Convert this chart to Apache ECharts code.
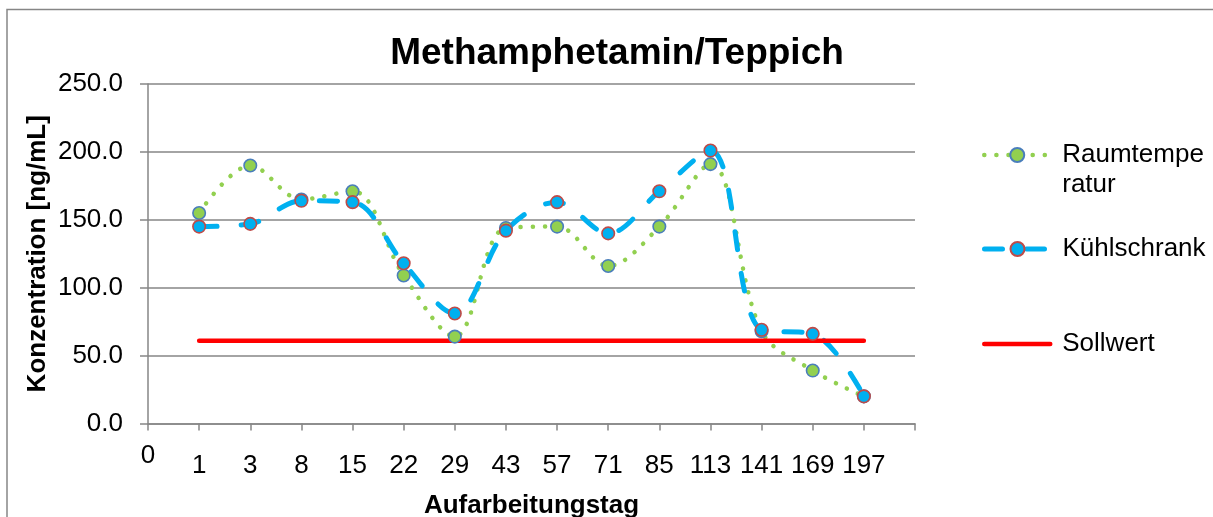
<!DOCTYPE html>
<html>
<head>
<meta charset="utf-8">
<script src="https://cdn.jsdelivr.net/npm/echarts@6/dist/echarts.min.js"></script>
<style>html,body{margin:0;padding:0;background:#fff;}#c{width:1213px;height:517px;}</style>
</head>
<body>
<div id="c"></div>
<script>
const categories = ['0','1','3','8','15','22','29','43','57','71','85','113','141','169','197',''];
const raumtemperatur = [null,155,190,165,171,109,64,144,145,116,145,191,68,39,20,null];
const kuehlschrank = [null,145,147,164,163,118,81,142,163,140,171,201,69,66,20,null];
const sollwert = [null,61,61,61,61,61,61,61,61,61,61,61,61,61,61,null];
const yTicks = {min:0, max:250, interval:50};

const FONT = '"Liberation Sans", Arial, sans-serif';
const chart = echarts.init(document.getElementById('c'), null, {renderer:'canvas'});
const xData = categories.map(c => c === '0' ? {value:c, textStyle:{lineHeight:6}} : c);
const legendText = {fontFamily:FONT, fontSize:26, lineHeight:30, color:'#000', padding:[0,0,0,7]};

chart.setOption({
  animation:false,
  backgroundColor:'#fff',
  textStyle:{fontFamily:FONT},
  title:{text:'Methamphetamin/Teppich', left:612, textAlign:'center', top:30,
    textStyle:{fontFamily:FONT, fontSize:37, fontWeight:'bold', color:'#000'}},
  graphic:[{type:'rect', shape:{x:7,y:9.5,width:1300,height:600}, style:{fill:'none', stroke:'#868686', lineWidth:1.5}, silent:true}],
  grid:{left:148, right:298, top:84, bottom:93.5, outerBoundsMode:'none', containLabel:false},
  legend:[
    {data:['Raumtemperatur'], orient:'vertical', left:977, top:105, itemWidth:66, itemHeight:17.5,
     formatter:()=> ' \nRaumtempe\nratur', textStyle:legendText, lineStyle:{width:4.5}},
    {data:['Kühlschrank'], orient:'vertical', left:977, top:229, itemWidth:66, itemHeight:17.5,
     textStyle:legendText, lineStyle:{width:5}},
    {data:['Sollwert'], orient:'vertical', left:977, top:324, itemWidth:66, itemHeight:17.5,
     textStyle:legendText, lineStyle:{width:4.5}, itemStyle:{opacity:0}}
  ],
  xAxis:{type:'category', data:xData, boundaryGap:false,
    name:'Aufarbeitungstag', nameLocation:'middle', nameGap:69, nameMoveOverlap:false,
    nameTextStyle:{fontFamily:FONT, fontSize:26, fontWeight:'bold', color:'#000'},
    axisLine:{lineStyle:{color:'#868686', width:1.5}},
    axisTick:{show:true, length:7, inside:false, interval:0, lineStyle:{color:'#868686', width:1.5}},
    axisLabel:{interval:0, margin:29.5, fontFamily:FONT, fontSize:26, lineHeight:26, color:'#000'},
    splitLine:{show:false}},
  yAxis:{type:'value', min:yTicks.min, max:yTicks.max, interval:yTicks.interval,
    name:'Konzentration [ng/mL]', nameLocation:'middle', nameGap:97, nameRotate:90, nameMoveOverlap:false,
    nameTextStyle:{fontFamily:FONT, fontSize:26, fontWeight:'bold', color:'#000'},
    axisLine:{show:true, lineStyle:{color:'#868686', width:1.5}},
    axisTick:{show:true, length:8, lineStyle:{color:'#868686', width:1.5}},
    axisLabel:{margin:25, fontFamily:FONT, fontSize:26, color:'#000', formatter:v=>v.toFixed(1)},
    splitLine:{show:true, lineStyle:{color:'#868686', width:1.5}}},
  series:[
    {name:'Raumtemperatur', type:'line', data:raumtemperatur, smooth:0.35,
     symbol:'circle', symbolSize:12.5, showAllSymbol:true,
     lineStyle:{color:'#92D050', width:4.5, type:[0.1,12], cap:'round'},
     itemStyle:{color:'#92D050', borderColor:'#4A7EBB', borderWidth:1.6}},
    {name:'Kühlschrank', type:'line', data:kuehlschrank, smooth:0.35,
     symbol:'circle', symbolSize:12.5, showAllSymbol:true,
     lineStyle:{color:'#00B0F0', width:5, type:[18,24], cap:'round'},
     itemStyle:{color:'#00B0F0', borderColor:'#BE4B48', borderWidth:1.6}},
    {name:'Sollwert', type:'line', data:sollwert, symbol:'none',
     lineStyle:{color:'#FF0000', width:4.5, cap:'round'},
     itemStyle:{color:'#FF0000'}}
  ]
});
</script>
</body>
</html>
